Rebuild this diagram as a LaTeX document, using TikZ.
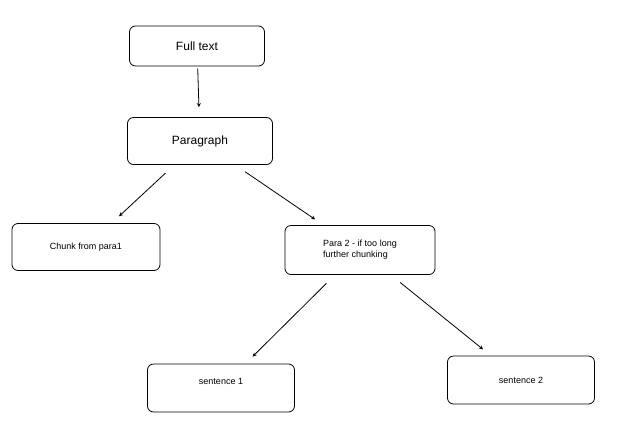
\documentclass[tikz,border=0pt]{standalone}
\usepackage{fontspec}
\setmainfont{Liberation Sans}
\usetikzlibrary{positioning}
\begin{document}
\begin{tikzpicture}[x=1pt, y=-1pt, >=stealth,
  box/.style={draw, rounded corners=6pt, line width=0.8pt, inner sep=0pt},
  link/.style={->, line width=0.8pt, shorten >=10pt, shorten <=12pt}]
\useasboundingbox (0,0) rectangle (631,426);

% boxes
\node [box, minimum width=135pt, minimum height=40pt, font=\large] (full) at (197,46) {Full text};
\node [box, minimum width=145pt, minimum height=47pt, font=\large] (para) at (200,141) {Paragraph};
\node [box, minimum width=148pt, minimum height=47pt, font=\small] (chunk) at (86,247) {Chunk from para1};
\node [box, minimum width=150pt, minimum height=49pt, font=\small, align=left] (para2) at (360,250) {Para 2 - if too long\\further chunking};
\node [box, minimum width=147pt, minimum height=48pt, font=\small, text depth=14pt, xshift=-15pt] (s1) at (236,388) {sentence 1};
\node [box, minimum width=147pt, minimum height=48pt, font=\small] (s2) at (521,380) {sentence 2};

% arrows
\draw [link, shorten <=2pt] (full) -- (para);
\draw [link] (para) -- (chunk);
\draw [link] (para) -- (para2);
\draw [link] (para2) -- (s1);
\draw [link] (para2) -- (s2);
\end{tikzpicture}
\end{document}
